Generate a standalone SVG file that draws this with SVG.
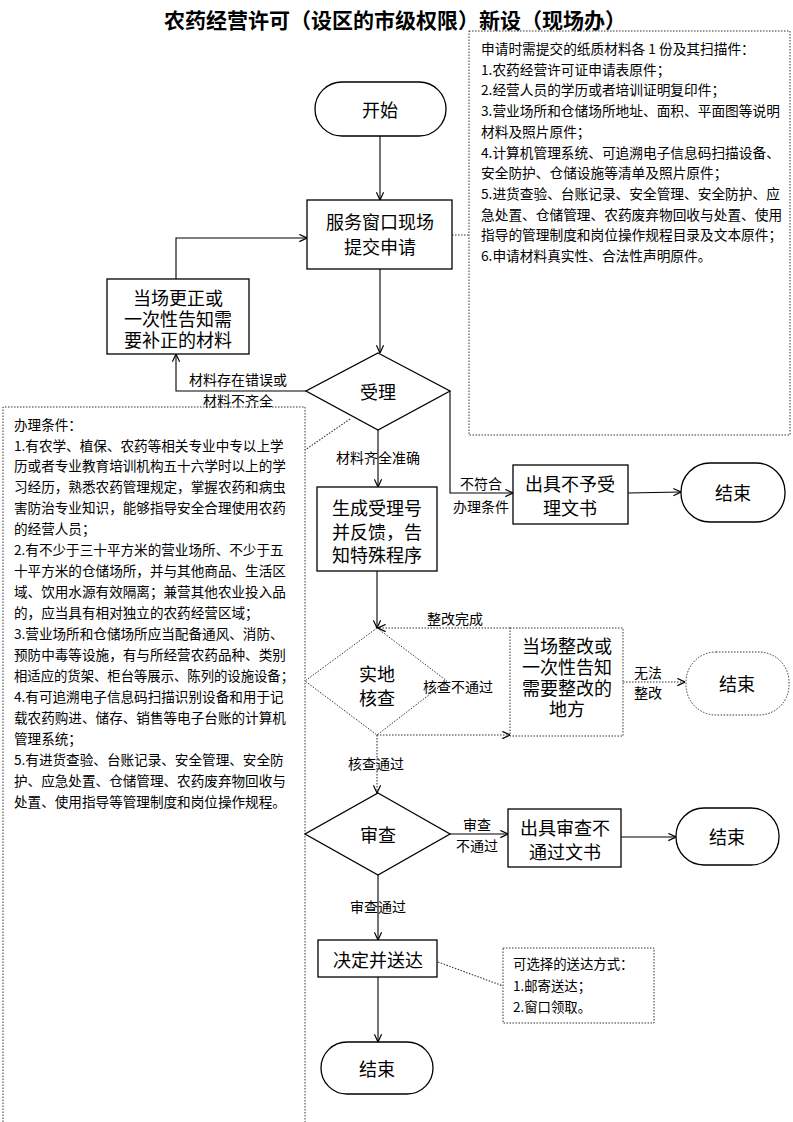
<svg xmlns="http://www.w3.org/2000/svg" width="793" height="1122" viewBox="0 0 793 1122">
<style>
text{font-family:"Noto Sans CJK SC","Noto Sans",sans-serif;fill:#000;dominant-baseline:central}
.title{font-size:21px;font-weight:bold;text-anchor:middle}
.n{font-size:18px;text-anchor:middle}
.lb{font-size:14px;text-anchor:middle}
.nt{font-size:13.7px}
.nl{font-size:13.6px}
.ns{font-size:13.4px}
.box{fill:#fff;stroke:#000;stroke-width:1.3}
.dbox{fill:#fff;stroke:#333;stroke-width:1;stroke-dasharray:1.5 1.5}
.dnote{fill:none;stroke:#333;stroke-width:1;stroke-dasharray:1.5 1.5}
.ln{fill:none;stroke:#000;stroke-width:1.1}
.dl{fill:none;stroke:#333;stroke-width:1.1;stroke-dasharray:1.5 1.5}
</style>
<defs>
<marker id="arr" viewBox="0 0 10 10" refX="9.5" refY="5" markerWidth="9" markerHeight="9" orient="auto" markerUnits="userSpaceOnUse"><path d="M1,1 L9.5,5 L1,9" fill="none" stroke="#000" stroke-width="1.3"/></marker>
</defs>
<rect width="793" height="1122" fill="#fff"/>
<text class="title" x="395" y="19">农药经营许可（设区的市级权限）新设（现场办）</text>

<g id="note-materials">
<rect class="dnote" x="469" y="31" width="321" height="404"/>
<text class="nt" x="481" y="48">申请时需提交的纸质材料各 1 份及其扫描件：</text>
<text class="nt" x="481" y="68.7">1.农药经营许可证申请表原件；</text>
<text class="nt" x="481" y="89.4">2.经营人员的学历或者培训证明复印件；</text>
<text class="nt" x="481" y="110.1">3.营业场所和仓储场所地址、面积、平面图等说明</text>
<text class="nt" x="481" y="130.8">材料及照片原件；</text>
<text class="nt" x="481" y="151.5">4.计算机管理系统、可追溯电子信息码扫描设备、</text>
<text class="nt" x="481" y="172.2">安全防护、仓储设施等清单及照片原件；</text>
<text class="nt" x="481" y="192.9">5.进货查验、台账记录、安全管理、安全防护、应</text>
<text class="nt" x="481" y="213.6">急处置、仓储管理、农药废弃物回收与处置、使用</text>
<text class="nt" x="481" y="234.3">指导的管理制度和岗位操作规程目录及文本原件；</text>
<text class="nt" x="481" y="255">6.申请材料真实性、合法性声明原件。</text>
</g>

<g id="note-conditions">
<path class="dnote" d="M3,1122 V407 H305 V1122"/>
<text class="nl" x="14" y="423.5">办理条件：</text>
<text class="nl" x="14" y="444.5">1.有农学、植保、农药等相关专业中专以上学</text>
<text class="nl" x="14" y="465.4">历或者专业教育培训机构五十六学时以上的学</text>
<text class="nl" x="14" y="486.4">习经历，熟悉农药管理规定，掌握农药和病虫</text>
<text class="nl" x="14" y="507.3">害防治专业知识，能够指导安全合理使用农药</text>
<text class="nl" x="14" y="528.3">的经营人员；</text>
<text class="nl" x="14" y="549.2">2.有不少于三十平方米的营业场所、不少于五</text>
<text class="nl" x="14" y="570.2">十平方米的仓储场所，并与其他商品、生活区</text>
<text class="nl" x="14" y="591.1">域、饮用水源有效隔离；兼营其他农业投入品</text>
<text class="nl" x="14" y="612.1">的，应当具有相对独立的农药经营区域；</text>
<text class="nl" x="14" y="633">3.营业场所和仓储场所应当配备通风、消防、</text>
<text class="nl" x="14" y="654">预防中毒等设施，有与所经营农药品种、类别</text>
<text class="nl" x="14" y="674.9" textLength="280" lengthAdjust="spacingAndGlyphs">相适应的货架、柜台等展示、陈列的设施设备；</text>
<text class="nl" x="14" y="695.9">4.有可追溯电子信息码扫描识别设备和用于记</text>
<text class="nl" x="14" y="716.8">载农药购进、储存、销售等电子台账的计算机</text>
<text class="nl" x="14" y="737.8">管理系统；</text>
<text class="nl" x="14" y="758.7">5.有进货查验、台账记录、安全管理、安全防</text>
<text class="nl" x="14" y="779.7">护、应急处置、仓储管理、农药废弃物回收与</text>
<text class="nl" x="14" y="800.6">处置、使用指导等管理制度和岗位操作规程。</text>
</g>

<g id="note-delivery">
<rect class="dnote" x="503" y="948" width="151" height="75"/>
<text class="ns" x="513" y="963">可选择的送达方式：</text>
<text class="ns" x="513" y="984.5">1.邮寄送达；</text>
<text class="ns" x="513" y="1006">2.窗口领取。</text>
</g>

<g id="start">
<rect class="box" x="315" y="82" width="131" height="54" rx="27"/>
<text class="n" x="380" y="109">开始</text>
</g>
<g id="submit">
<rect class="box" x="307" y="200" width="145" height="69"/>
<text class="n" x="380" y="221">服务窗口现场</text>
<text class="n" x="380" y="246">提交申请</text>
</g>
<g id="correct">
<rect class="box" x="107" y="279" width="142" height="75"/>
<text class="n" x="178" y="297">当场更正或</text>
<text class="n" x="178" y="318">一次性告知需</text>
<text class="n" x="178" y="339">要补正的材料</text>
</g>
<g id="accept">
<polygon class="box" points="378,353 450,391 378,430 306,391"/>
<text class="n" x="378" y="391">受理</text>
</g>
<g id="reject">
<rect class="box" x="513" y="465" width="115" height="59"/>
<text class="n" x="570" y="483">出具不予受</text>
<text class="n" x="570" y="507">理文书</text>
</g>
<g id="end1">
<rect class="box" x="681" y="463" width="104" height="59" rx="29"/>
<text class="n" x="733" y="492">结束</text>
</g>
<g id="receipt">
<rect class="box" x="317" y="487" width="120" height="84"/>
<text class="n" x="377" y="507">生成受理号</text>
<text class="n" x="377" y="531">并反馈，告</text>
<text class="n" x="377" y="554">知特殊程序</text>
</g>
<g id="inspect">
<polygon class="dbox" points="377,628 447,681 377,735 305,681"/>
<text class="n" x="377" y="673">实地</text>
<text class="n" x="377" y="697">核查</text>
</g>
<g id="rectify">
<rect class="dbox" x="510" y="628" width="113" height="108"/>
<text class="n" x="567" y="645">当场整改或</text>
<text class="n" x="567" y="666">一次性告知</text>
<text class="n" x="567" y="687">需要整改的</text>
<text class="n" x="567" y="708">地方</text>
</g>
<g id="end2">
<rect class="dbox" x="686" y="652" width="103" height="63" rx="30"/>
<text class="n" x="737" y="683">结束</text>
</g>
<g id="review">
<polygon class="box" points="378,793 450,834 378,875 305,834"/>
<text class="n" x="378" y="834">审查</text>
</g>
<g id="review-fail">
<rect class="box" x="508" y="809" width="113" height="58"/>
<text class="n" x="565" y="827">出具审查不</text>
<text class="n" x="565" y="851">通过文书</text>
</g>
<g id="end3">
<rect class="box" x="676" y="808" width="103" height="57" rx="28"/>
<text class="n" x="727" y="836">结束</text>
</g>
<g id="decide">
<rect class="box" x="318" y="940" width="119" height="37"/>
<text class="n" x="378" y="959">决定并送达</text>
</g>
<g id="end4">
<rect class="box" x="321" y="1042" width="112" height="52" rx="26"/>
<text class="n" x="377" y="1068">结束</text>
</g>

<g id="connectors">
<path class="ln" d="M380,136 V200" marker-end="url(#arr)"/>
<path class="dl" d="M452,235 H469"/>
<path class="ln" d="M176,279 V238 H307" marker-end="url(#arr)"/>
<path class="ln" d="M380,269 V353" marker-end="url(#arr)"/>
<path class="ln" d="M306,391 H176 V354" marker-end="url(#arr)"/>
<text class="lb" x="238" y="379">材料存在错误或</text>
<text class="lb" x="238" y="400">材料不齐全</text>
<path class="dl" d="M350,419 L305,450"/>
<path class="ln" d="M378,430 V487" marker-end="url(#arr)"/>
<text class="lb" x="378" y="457">材料齐全准确</text>
<path class="ln" d="M450,391 V493 H513" marker-end="url(#arr)"/>
<text class="lb" x="481" y="483">不符合</text>
<text class="lb" x="481" y="506">办理条件</text>
<path class="ln" d="M628,493 L681,492" marker-end="url(#arr)"/>
<path class="ln" d="M377,571 V628" marker-end="url(#arr)"/>
<path class="dl" d="M510,628 H378" marker-end="url(#arr)"/>
<text class="lb" x="455" y="618">整改完成</text>
<path class="dl" d="M377,735 H510" marker-end="url(#arr)"/>
<text class="lb" x="458" y="686">核查不通过</text>
<path class="dl" d="M623,682 H685" marker-end="url(#arr)"/>
<text class="lb" x="648" y="672">无法</text>
<text class="lb" x="648" y="692">整改</text>
<path class="dl" d="M377,735 V793" marker-end="url(#arr)"/>
<text class="lb" x="376" y="763">核查通过</text>
<path class="ln" d="M450,834 H508" marker-end="url(#arr)"/>
<text class="lb" x="477" y="824">审查</text>
<text class="lb" x="477" y="845">不通过</text>
<path class="ln" d="M621,837 H676" marker-end="url(#arr)"/>
<path class="ln" d="M378,875 V940" marker-end="url(#arr)"/>
<text class="lb" x="378" y="906">审查通过</text>
<path class="dl" d="M438,962 L503,986"/>
<path class="ln" d="M378,977 V1042" marker-end="url(#arr)"/>
</g>
</svg>
